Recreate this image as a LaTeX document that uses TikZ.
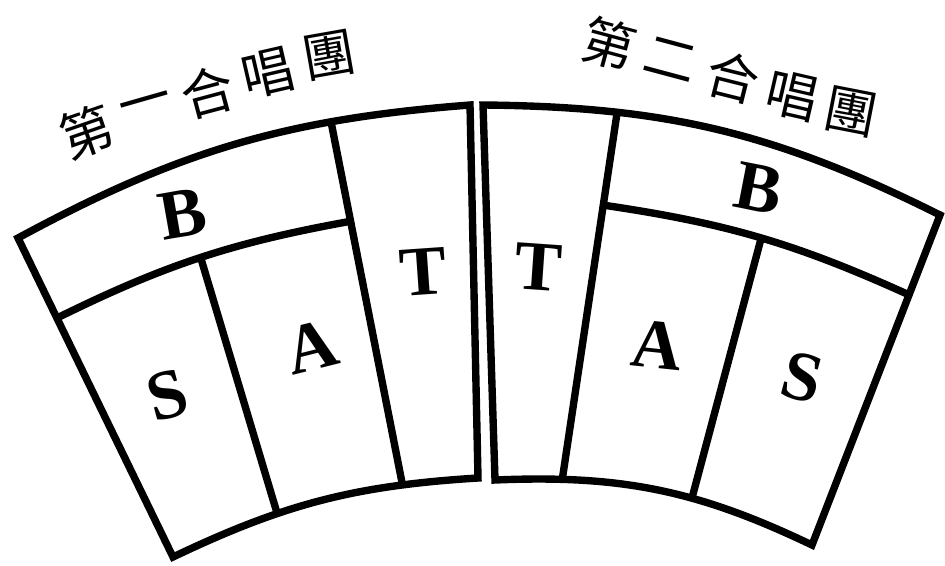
\documentclass[tikz,border=0pt]{standalone}
\usepackage{fontspec}
\newfontfamily\cjkfont{Noto Sans CJK TC}
\newfontfamily\voicefont{Liberation Serif}
\usepackage{tikz}
\usetikzlibrary{calc}
\tikzset{
	part/.style={line width=4.2pt, line join=miter},
	voice/.style={font=\voicefont\bfseries\fontsize{40}{40}\selectfont, inner sep=0pt},
	hanzi/.style={font=\cjkfont\fontsize{30}{30}\selectfont, inner sep=0pt}
}
\begin{document}
\begin{tikzpicture}[x=0.02cm, y=-0.02cm]
		\useasboundingbox (0,0) rectangle (945,565);
		\begin{scope}
			\coordinate (OL) at (18,238);
			\coordinate (OR) at (470,105);
			\coordinate (IL) at (173,557);
			\coordinate (IR) at (478,478);
			\draw[part] (OL) to[bend left=12] coordinate[pos=0.72] (T1) (OR) -- (IR)
				to[bend right=11] coordinate[pos=0.223] (T2) coordinate[pos=0.656] (SA2) (IL) -- cycle;
			\coordinate (B1) at ($(OL)!0.251!(IL)$);
			\coordinate (B2) at ($(T1)!0.274!(T2)$);
			\draw[part] (T1) -- (T2);
			\draw[part] (B1) to[bend left=8] coordinate[pos=0.503] (SA1) (B2);
			\draw[part] (SA1) -- (SA2);
			\node[voice, rotate=10] (bass1) at (183,214) {B};
			\node[voice, rotate=15] (sopr1) at (167,395) {S};
			\node[voice, rotate=14] (alto1) at (312,347) {A};
			\node[voice, rotate=4] (ten1) at (423,272) {T};
			\foreach \x/\y/\r/\c [count=\i] in {87/132/19/第, 147/108/16/一, 208/92/15/合, 268/73/13/唱, 329/55/10/團}
				\node[hanzi, rotate=\r] (choir1-\i) at (\x,\y) {\c};
		\end{scope}
		\begin{scope}
			\coordinate (OL) at (483,105);
			\coordinate (OR) at (940,215);
			\coordinate (IL) at (495,480);
			\coordinate (IR) at (812,545);
			\draw[part] (OL) to[bend left=13] coordinate[pos=0.268] (T1) (OR) -- (IR)
				to[bend right=14] coordinate[pos=0.385] (AS2) coordinate[pos=0.81] (T2) (IL) -- cycle;
			\coordinate (B1) at ($(T1)!0.253!(T2)$);
			\coordinate (B2) at ($(OR)!0.242!(IR)$);
			\draw[part] (T1) -- (T2);
			\draw[part] (B1) to[bend left=8] coordinate[pos=0.505] (AS1) (B2);
			\draw[part] (AS1) -- (AS2);
			\node[voice, rotate=-4] (ten2) at (538,267) {T};
			\node[voice, rotate=-11] (bass2) at (759,188) {B};
			\node[voice, rotate=-6] (alto2) at (657,345) {A};
			\node[voice, rotate=-15] (sopr2) at (802,377) {S};
			\foreach \x/\y/\r/\c [count=\i] in {609/44/-15/第, 671/60/-15/二, 733/77/-14/合, 792/96/-13/唱, 851/112/-11/團}
				\node[hanzi, rotate=\r] (choir2-\i) at (\x,\y) {\c};
		\end{scope}
	\end{tikzpicture}
\end{document}
